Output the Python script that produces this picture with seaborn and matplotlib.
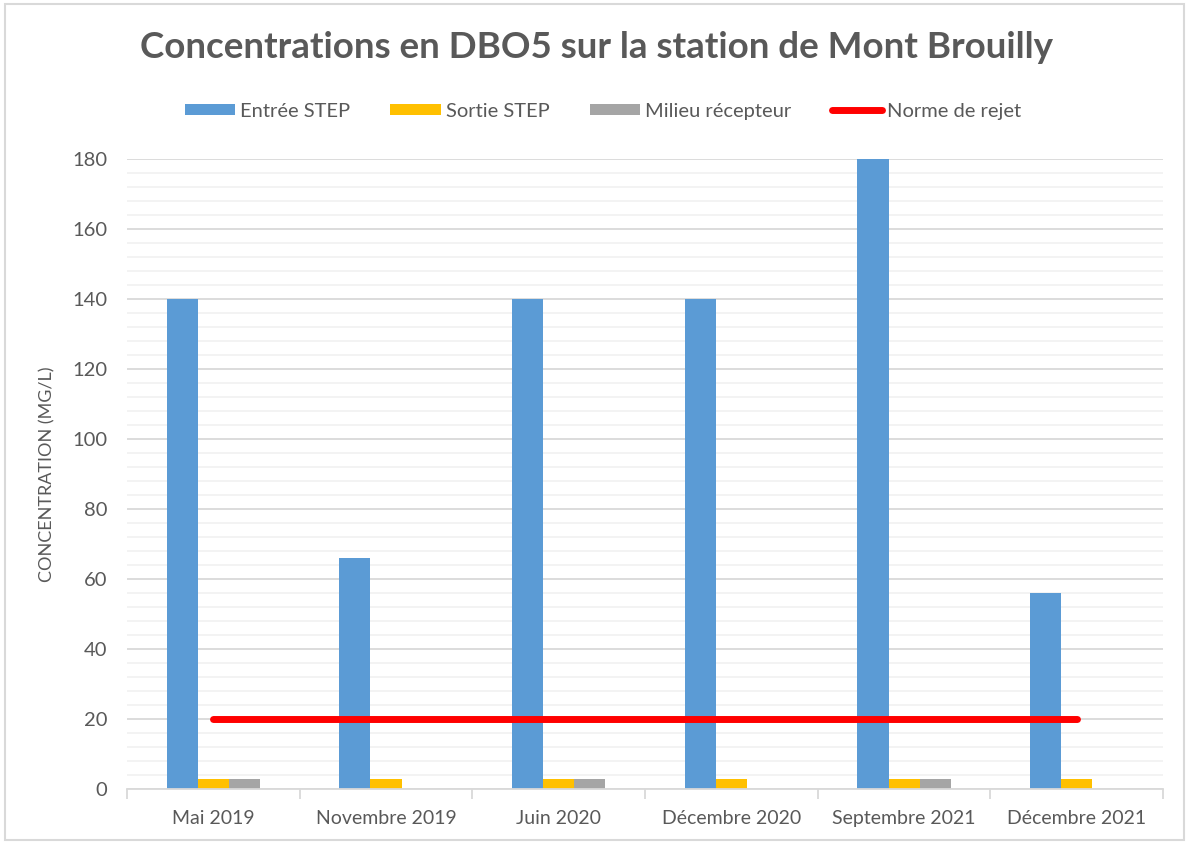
import numpy as np
import pandas as pd
import matplotlib
matplotlib.use("Agg")
import matplotlib.pyplot as plt
import seaborn as sns
from matplotlib.patches import Patch, Rectangle
from matplotlib.lines import Line2D
from matplotlib.ticker import MultipleLocator, FixedLocator

# Données (mg/L)
periodes = ["Mai 2019", "Novembre 2019", "Juin 2020", "Décembre 2020",
            "Septembre 2021", "Décembre 2021"]
entree_step = [140, 66, 140, 140, 180, 56]
sortie_step = [3, 3, 3, 3, 3, 3]
milieu_recepteur = [3, np.nan, 3, np.nan, 3, np.nan]
norme_rejet = [20, 20, 20, 20, 20, 20]

series = ["Entrée STEP", "Sortie STEP", "Milieu récepteur"]
couleurs = ["#5b9bd5", "#ffc000", "#a5a5a5"]
gris_texte = "#595959"

df = pd.DataFrame({
    "Periode": periodes * 3,
    "Serie": [s for s in series for _ in periodes],
    "Valeur": entree_step + sortie_step + milieu_recepteur,
})

sns.set_theme(style="white")
plt.rcParams["font.family"] = ["Lato", "DejaVu Sans"]

fig = plt.figure(figsize=(11.89, 8.43), dpi=100)
ax = fig.add_axes([0.1068, 0.064, 0.8714, 0.7474])

sns.barplot(data=df, x="Periode", y="Valeur", hue="Serie", order=periodes,
            hue_order=series, palette=couleurs, width=0.54, saturation=1,
            linewidth=0, ax=ax, legend=False)

sns.lineplot(x=np.arange(len(periodes)), y=norme_rejet, color="#ff0000",
             linewidth=5, solid_capstyle="round", ax=ax, zorder=5)

# Axes et grilles
ax.set_xlim(-0.5, len(periodes) - 0.5)
ax.set_ylim(0, 180)
ax.yaxis.set_major_locator(MultipleLocator(20))
ax.yaxis.set_minor_locator(MultipleLocator(4))
ax.grid(axis="y", which="major", color="#d9d9d9", linewidth=1.3)
ax.grid(axis="y", which="minor", color="#f2f2f2", linewidth=1.3)
ax.set_axisbelow(True)

ax.xaxis.set_minor_locator(FixedLocator(np.arange(-0.5, len(periodes), 1)))
ax.tick_params(axis="x", which="major", length=0, labelsize=14,
               labelcolor=gris_texte, pad=15)
ax.tick_params(axis="x", which="minor", length=7, color="#d9d9d9", width=1.3,
               bottom=True)
ax.tick_params(axis="y", which="both", length=0, labelsize=14.5,
               labelcolor=gris_texte, pad=14)

for side in ["top", "right", "left"]:
    ax.spines[side].set_visible(False)
ax.spines["bottom"].set_color("#d9d9d9")
ax.spines["bottom"].set_linewidth(1.3)

ax.set_xlabel("")
ax.set_ylabel("CONCENTRATION (MG/L)", fontsize=13, color=gris_texte,
              labelpad=12)

fig.suptitle("Concentrations en DBO5 sur la station de Mont Brouilly",
             x=0.502, y=0.963, fontsize=26.5, fontweight="bold", color=gris_texte)

handles = [Patch(facecolor=c, edgecolor="none") for c in couleurs]
handles.append(Line2D([0], [0], color="#ff0000", linewidth=5,
                      solid_capstyle="round"))
fig.legend(handles, series + ["Norme de rejet"], loc="center", ncol=4,
           bbox_to_anchor=(0.507, 0.868), frameon=False, fontsize=14.5,
           labelcolor=gris_texte, handlelength=2.5, handleheight=0.5,
           handletextpad=0.25, columnspacing=2.0)

# Cadre autour du graphique
fig.patches.append(Rectangle((0.004, 0.003), 0.992, 0.992,
                             transform=fig.transFigure, fill=False,
                             edgecolor="#d9d9d9", linewidth=1.5))

fig.savefig("out.png", dpi=100)
